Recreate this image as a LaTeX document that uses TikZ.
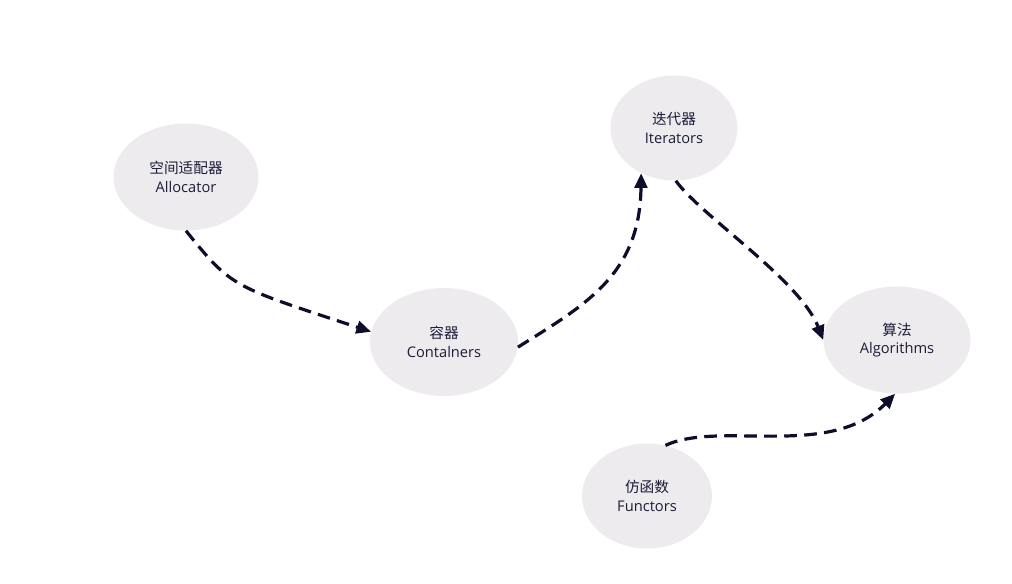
\documentclass[tikz,border=0pt]{standalone}
\usepackage{fontspec}
\setmainfont{Open Sans}
\newfontfamily\cjk{Noto Sans CJK SC}
\usetikzlibrary{shapes.geometric,arrows.meta,positioning}

\definecolor{stlfill}{HTML}{EDEBEE}
\definecolor{stlink}{HTML}{0E0E2C}
\definecolor{stltext}{HTML}{1C1C38}

\begin{document}
\begin{tikzpicture}[
        x=0.75pt, y=-0.75pt,
        part/.style = {ellipse, fill=stlfill, draw=none, inner sep=0pt, text=stltext,
            align=center, font=\fontsize{11}{14}\selectfont},
        flow/.style = {stlink, line width=2.4pt, dash pattern=on 9.5pt off 5.5pt,
            -{Triangle[length=11pt,width=9.5pt]}}
    ]
    \useasboundingbox (0,0) rectangle (1012,583);

    %nodes
    \node [part, minimum width=145*0.75pt, minimum height=107*0.75pt] (alloc) at (186,177) {{\cjk 空间适配器}\\Allocator};
    \node [part, minimum width=148*0.75pt, minimum height=108*0.75pt] (cont) at (444,342) {{\cjk 容器}\\Contalners};
    \node [part, minimum width=127*0.75pt, minimum height=105*0.75pt] (iter) at (674,128) {{\cjk 迭代器}\\Iterators};
    \node [part, minimum width=147*0.75pt, minimum height=107*0.75pt] (algo) at (897,340) {{\cjk 算法}\\Algorithms};
    \node [part, minimum width=130*0.75pt, minimum height=105*0.75pt] (func) at (647,496) {{\cjk 仿函数}\\Functors};

    % links
    \draw[flow] (alloc.south) .. controls (232,288) and (232,286) .. (cont.172);
    \draw[flow] (cont.-4) .. controls (585,305) and (640,275) .. (iter.234);
    \draw[flow] (iter.-88) .. controls (700,215) and (800,280) .. (algo.west);
    \draw[flow] (func.70) .. controls (720,420) and (830,460) .. (algo.268);

\end{tikzpicture}
\end{document}
